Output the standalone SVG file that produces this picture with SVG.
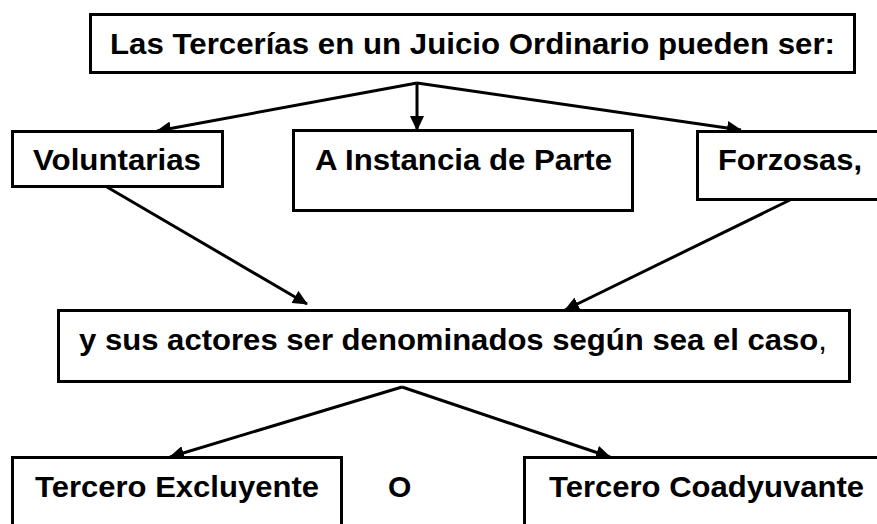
<svg xmlns="http://www.w3.org/2000/svg" width="877" height="524" viewBox="0 0 877 524">
  <style>
    .box { fill: #ffffff; stroke: #000000; stroke-width: 3; }
    .lbl { font-family: "Liberation Sans", Arial, sans-serif; font-weight: bold; font-size: 30px; fill: #000000; }
    .thin { font-weight: normal; }
    .conn { stroke: #000000; stroke-width: 3; fill: none; marker-end: url(#arrow); }
  </style>
  <defs>
    <marker id="arrow" markerUnits="userSpaceOnUse" markerWidth="15" markerHeight="14" viewBox="0 0 15 14" refX="14" refY="7" orient="auto">
      <path d="M0,0 L15,7 L0,14 z" fill="#000000"/>
    </marker>
  </defs>
  <rect width="877" height="524" fill="#ffffff"/>

  <g id="connectors">
    <line class="conn" x1="417" y1="83" x2="157" y2="131"/>
    <line class="conn" x1="417" y1="83" x2="417" y2="130"/>
    <line class="conn" x1="417" y1="83" x2="741" y2="130"/>
    <line class="conn" x1="107" y1="187" x2="307" y2="304"/>
    <line class="conn" x1="790" y1="200" x2="565" y2="310"/>
    <line class="conn" x1="402" y1="387" x2="170" y2="457"/>
    <line class="conn" x1="402" y1="387" x2="610" y2="457"/>
  </g>

  <g id="node-titulo">
    <rect class="box" x="90.5" y="14.5" width="764" height="58"/>
    <text class="lbl" x="110" y="54" textLength="725" lengthAdjust="spacingAndGlyphs">Las Tercerías en un Juicio Ordinario pueden ser:</text>
  </g>

  <g id="node-voluntarias">
    <rect class="box" x="12.5" y="131.5" width="210" height="55"/>
    <text class="lbl" x="33" y="170" textLength="168" lengthAdjust="spacingAndGlyphs">Voluntarias</text>
  </g>

  <g id="node-instancia">
    <rect class="box" x="293.5" y="130.5" width="339" height="80"/>
    <text class="lbl" x="315" y="170" textLength="297" lengthAdjust="spacingAndGlyphs">A Instancia de Parte</text>
  </g>

  <g id="node-forzosas">
    <rect class="box" x="697.5" y="131.5" width="200" height="68"/>
    <text class="lbl" x="718" y="170" textLength="144" lengthAdjust="spacingAndGlyphs">Forzosas,</text>
  </g>

  <g id="node-actores">
    <rect class="box" x="58.5" y="310.5" width="791" height="71"/>
    <text class="lbl" x="79" y="350" textLength="748" lengthAdjust="spacingAndGlyphs">y sus actores ser denominados según sea el caso<tspan class="thin">,</tspan></text>
  </g>

  <g id="node-excluyente">
    <rect class="box" x="12.5" y="457.5" width="329" height="80"/>
    <text class="lbl" x="35" y="497" textLength="284" lengthAdjust="spacingAndGlyphs">Tercero Excluyente</text>
  </g>

  <g id="node-o">
    <text class="lbl" x="388" y="497">O</text>
  </g>

  <g id="node-coadyuvante">
    <rect class="box" x="524.5" y="457.5" width="400" height="80"/>
    <text class="lbl" x="549" y="497" textLength="315" lengthAdjust="spacingAndGlyphs">Tercero Coadyuvante</text>
  </g>
</svg>
